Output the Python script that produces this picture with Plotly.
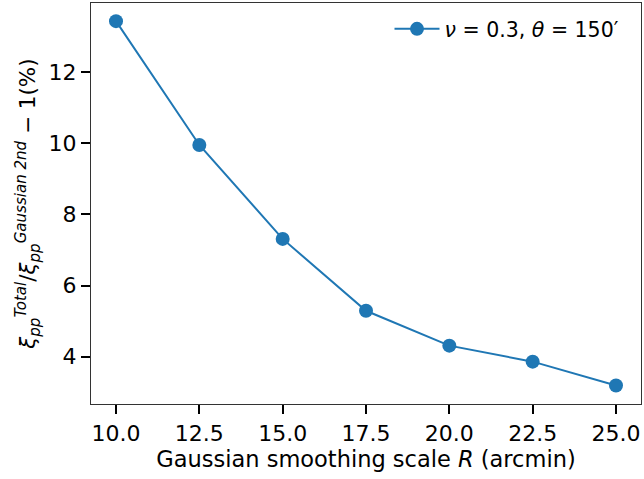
import plotly.graph_objects as go

R = [10.0, 12.5, 15.0, 17.5, 20.0, 22.5, 25.0]
ratio = [13.43, 9.95, 7.31, 5.29, 4.31, 3.86, 3.19]
xticks = [10.0, 12.5, 15.0, 17.5, 20.0, 22.5, 25.0]
xticklabels = ["10.0", "12.5", "15.0", "17.5", "20.0", "22.5", "25.0"]
yticks = [4, 6, 8, 10, 12]

blue = "#1f77b4"
font = "DejaVu Sans"

fig = go.Figure()
fig.add_trace(go.Scatter(
    x=R, y=ratio, mode="lines+markers",
    line=dict(color=blue, width=2),
    marker=dict(color=blue, size=14),
    name="<i>ν</i> = 0.3, <i>θ</i> = 150′",
))

fig.update_layout(
    width=644, height=479,
    margin=dict(l=91, r=3, t=3, b=75),
    paper_bgcolor="white", plot_bgcolor="white",
    font=dict(family=font, size=22, color="black"),
    showlegend=True,
    legend=dict(x=0.97, y=0.985, xanchor="right", yanchor="top",
                itemwidth=45,
                bgcolor="rgba(255,255,255,0)", font=dict(size=20.5)),
    xaxis=dict(
        range=[9.25, 25.75], tickvals=xticks, ticktext=xticklabels,
        ticks="outside", ticklen=9, tickwidth=2, tickcolor="black",
        showline=True, linecolor="#333", linewidth=1.25, mirror=True,
        showgrid=False, zeroline=False,
        title=dict(text="Gaussian smoothing scale <i>R</i> (arcmin)", standoff=4,
                   font=dict(size=22.5)),
    ),
    yaxis=dict(
        range=[2.67, 13.94], tickvals=yticks,
        ticks="outside", ticklen=9, tickwidth=2, tickcolor="black",
        showline=True, linecolor="#333", linewidth=1.25, mirror=True,
        showgrid=False, zeroline=False,
        title=dict(text="<i>ξ</i><sub><i>pp</i></sub><sup><i>Total</i></sup>/<i>ξ</i><sub><i>pp</i></sub><sup><i>Gaussian 2nd</i></sup> − 1(%)",
                   standoff=6, font=dict(size=21.5)),
    ),
)

fig.write_html("out.html")
